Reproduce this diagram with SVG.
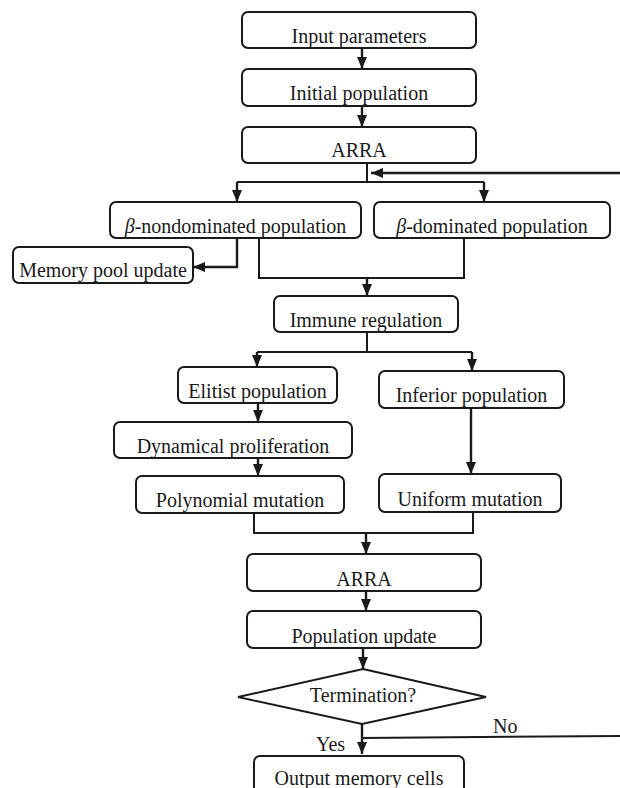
<svg xmlns="http://www.w3.org/2000/svg" width="620" height="788" viewBox="0 0 620 788">
<style>
.box{fill:#fff;stroke:#1a1a1a;stroke-width:2}
.lbl{font-family:"Liberation Serif","Times New Roman",serif;font-size:20px;fill:#1a1a1a;text-anchor:middle}
.lbl2{font-family:"Liberation Serif","Times New Roman",serif;font-size:20px;fill:#1a1a1a}
.c{fill:none;stroke:#1a1a1a;stroke-width:2}
.a{fill:none;stroke:#1a1a1a;stroke-width:2.4;marker-end:url(#ah)}
</style>
<defs>
<marker id="ah" markerUnits="userSpaceOnUse" viewBox="0 0 12 10" refX="12" refY="5" markerWidth="12" markerHeight="10" orient="auto">
<path d="M0,0 L12,5 L0,10 z" fill="#1a1a1a"/>
</marker>
</defs>
<rect width="620" height="788" fill="#fff"/>
<g id="connectors">
<path class="a" d="M362,48 V69"/>
<path class="a" d="M362,106 V127"/>
<path class="c" d="M367,163 V182 M237,182 H484"/>
<path class="a" d="M237,182 V202"/>
<path class="a" d="M484,182 V202"/>
<path class="a" d="M620,173 H371"/>
<path class="a" d="M237,238 V267 H193"/>
<path class="c" d="M259,238 V278 H464 V238"/>
<path class="a" d="M367,278 V296"/>
<path class="c" d="M367,332 V352 M257,352 H472"/>
<path class="a" d="M257,352 V367"/>
<path class="a" d="M472,352 V371"/>
<path class="a" d="M258,403 V422"/>
<path class="a" d="M258,458 V476"/>
<path class="a" d="M471,408 V474"/>
<path class="c" d="M254,513 V533 H473 V512"/>
<path class="a" d="M366,533 V554"/>
<path class="a" d="M366,591 V611"/>
<path class="a" d="M363,648 V669"/>
<path class="a" d="M362,724 V754"/>
<path class="c" d="M362,738 L620,736"/>
<text class="lbl2" x="493" y="733">No</text>
<text class="lbl2" x="316" y="751">Yes</text>
</g>
<g id="input"><rect class="box" x="242" y="12" width="234" height="36" rx="6"/><text class="lbl" x="359" y="43">Input parameters</text></g>
<g id="initial"><rect class="box" x="242" y="69" width="234" height="37" rx="6"/><text class="lbl" x="359" y="100">Initial population</text></g>
<g id="arra1"><rect class="box" x="242" y="127" width="234" height="36" rx="6"/><text class="lbl" x="359" y="157">ARRA</text></g>
<g id="nondominated"><rect class="box" x="110" y="202" width="251" height="36" rx="6"/><text class="lbl" x="235.5" y="233"><tspan font-style="italic">β</tspan>-nondominated population</text></g>
<g id="dominated"><rect class="box" x="374" y="202" width="236" height="36" rx="6"/><text class="lbl" x="492" y="233"><tspan font-style="italic">β</tspan>-dominated population</text></g>
<g id="memory"><rect class="box" x="13" y="247" width="180" height="36" rx="6"/><text class="lbl" x="103" y="277">Memory pool update</text></g>
<g id="immune"><rect class="box" x="274" y="296" width="184" height="36" rx="6"/><text class="lbl" x="366" y="327">Immune regulation</text></g>
<g id="elitist"><rect class="box" x="178" y="367" width="159" height="36" rx="6"/><text class="lbl" x="257.5" y="398">Elitist population</text></g>
<g id="inferior"><rect class="box" x="379" y="371" width="185" height="37" rx="6"/><text class="lbl" x="471.5" y="402">Inferior population</text></g>
<g id="proliferation"><rect class="box" x="114" y="422" width="238" height="36" rx="6"/><text class="lbl" x="233" y="453">Dynamical proliferation</text></g>
<g id="polynomial"><rect class="box" x="136" y="476" width="208" height="37" rx="6"/><text class="lbl" x="240" y="507">Polynomial mutation</text></g>
<g id="uniform"><rect class="box" x="379" y="474" width="182" height="38" rx="6"/><text class="lbl" x="470" y="506">Uniform mutation</text></g>
<g id="arra2"><rect class="box" x="247" y="554" width="234" height="37" rx="6"/><text class="lbl" x="364" y="586">ARRA</text></g>
<g id="popupdate"><rect class="box" x="247" y="611" width="234" height="37" rx="6"/><text class="lbl" x="364" y="643">Population update</text></g>
<g id="termination"><polygon class="box" points="363,669 486,697 362,724 238,697"/><text class="lbl" x="363" y="702">Termination?</text></g>
<g id="output"><rect class="box" x="254" y="756" width="210" height="44" rx="6"/><text class="lbl" x="359" y="785">Output memory cells</text></g>
</svg>
